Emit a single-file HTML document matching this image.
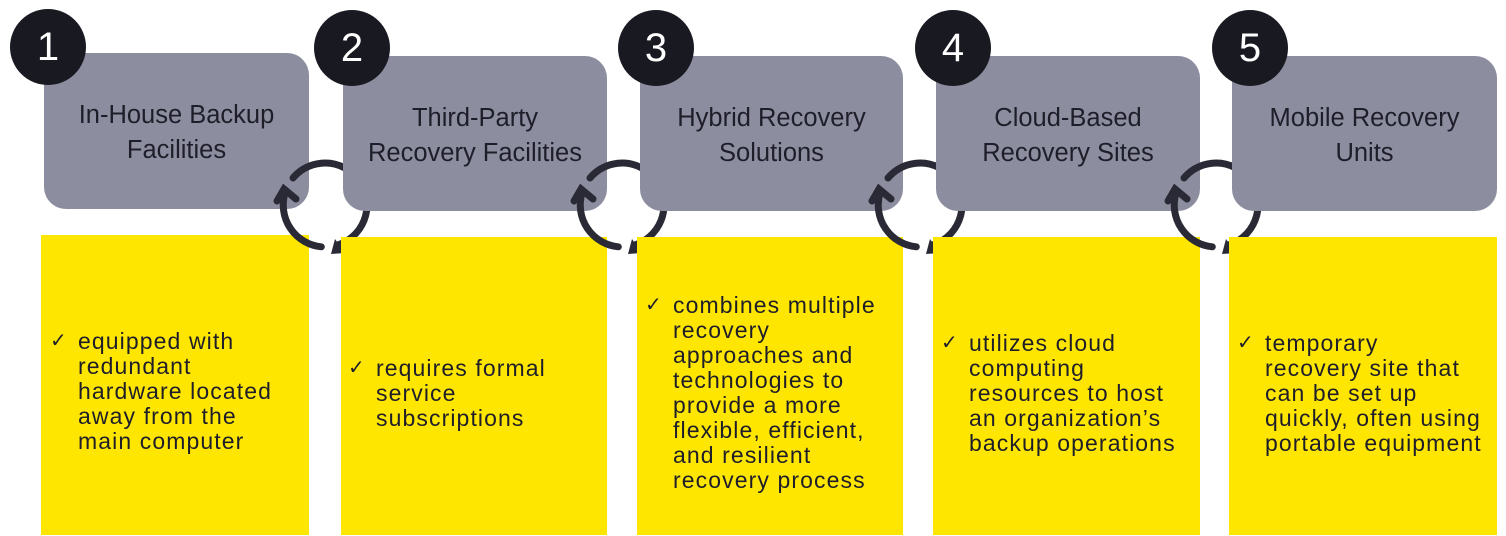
<!DOCTYPE html>
<html><head><meta charset="utf-8"><style>
body{margin:0;width:1506px;height:536px;background:#fff;position:relative;overflow:hidden;font-family:"Liberation Sans",sans-serif;}
.g{position:absolute;background:#8d8da0;border-radius:22px;color:#1e1e2a;font-size:25.5px;line-height:35px;text-align:center;display:flex;align-items:center;justify-content:center;box-sizing:border-box;padding-top:4px;}
.y{position:absolute;background:#ffe600;}
.t{position:absolute;font-size:23px;line-height:25px;color:#1e1e2a;letter-spacing:1.1px;white-space:nowrap;}
.ck{position:absolute;font-size:20px;line-height:25px;color:#1e1e2a;}
.n{position:absolute;width:76px;height:76px;border-radius:50%;background:#191922;color:#fff;font-size:40px;line-height:76px;text-align:center;}
svg.a{position:absolute;overflow:visible;}
</style></head><body>
<div class="y" style="left:41px;top:235px;width:268px;height:300px"></div>
<div class="g" style="left:44px;top:53px;width:265px;height:156px">In-House Backup<br>Facilities</div>
<div class="n" style="left:10px;top:9px">1</div>
<div class="ck" style="left:50px;top:329px">✓</div>
<div class="t" style="left:78px;top:329px">equipped with<br>redundant<br>hardware located<br>away from the<br>main computer</div>
<svg class="a" style="left:325px;top:205px" width="1" height="1"><g fill="none" stroke="#2a2a36" stroke-width="7" stroke-linecap="round"><path d="M36.4 -21 A42 42 0 0 1 12 40.2"/><path d="M-3.7 41.8 A42 42 0 0 1 -40 -12"/><path d="M-32 -27 A42 42 0 0 1 19 -37.4"/><path d="M-48 -4 L-41 -16 L-29 -6"/></g><polygon points="10,34 20,48 6,49" fill="#2a2a36"/></svg>

<div class="y" style="left:341px;top:237px;width:266px;height:298px"></div>
<div class="g" style="left:343px;top:56px;width:264px;height:155px">Third-Party<br>Recovery Facilities</div>
<div class="n" style="left:314px;top:10px">2</div>
<div class="ck" style="left:348px;top:356px">✓</div>
<div class="t" style="left:376px;top:356px">requires formal<br>service<br>subscriptions</div>
<svg class="a" style="left:622px;top:205px" width="1" height="1"><g fill="none" stroke="#2a2a36" stroke-width="7" stroke-linecap="round"><path d="M36.4 -21 A42 42 0 0 1 12 40.2"/><path d="M-3.7 41.8 A42 42 0 0 1 -40 -12"/><path d="M-32 -27 A42 42 0 0 1 19 -37.4"/><path d="M-48 -4 L-41 -16 L-29 -6"/></g><polygon points="10,34 20,48 6,49" fill="#2a2a36"/></svg>

<div class="y" style="left:637px;top:237px;width:266px;height:298px"></div>
<div class="g" style="left:640px;top:56px;width:263px;height:155px">Hybrid Recovery<br>Solutions</div>
<div class="n" style="left:618px;top:10px">3</div>
<div class="ck" style="left:645px;top:293px">✓</div>
<div class="t" style="left:673px;top:293px">combines multiple<br>recovery<br>approaches and<br>technologies to<br>provide a more<br>flexible, efficient,<br>and resilient<br>recovery process</div>
<svg class="a" style="left:920px;top:205px" width="1" height="1"><g fill="none" stroke="#2a2a36" stroke-width="7" stroke-linecap="round"><path d="M36.4 -21 A42 42 0 0 1 12 40.2"/><path d="M-3.7 41.8 A42 42 0 0 1 -40 -12"/><path d="M-32 -27 A42 42 0 0 1 19 -37.4"/><path d="M-48 -4 L-41 -16 L-29 -6"/></g><polygon points="10,34 20,48 6,49" fill="#2a2a36"/></svg>

<div class="y" style="left:933px;top:237px;width:267px;height:298px"></div>
<div class="g" style="left:936px;top:56px;width:264px;height:155px">Cloud-Based<br>Recovery Sites</div>
<div class="n" style="left:915px;top:10px">4</div>
<div class="ck" style="left:941px;top:331px">✓</div>
<div class="t" style="left:969px;top:331px">utilizes cloud<br>computing<br>resources to host<br>an organization’s<br>backup operations</div>
<svg class="a" style="left:1216px;top:205px" width="1" height="1"><g fill="none" stroke="#2a2a36" stroke-width="7" stroke-linecap="round"><path d="M36.4 -21 A42 42 0 0 1 12 40.2"/><path d="M-3.7 41.8 A42 42 0 0 1 -40 -12"/><path d="M-32 -27 A42 42 0 0 1 19 -37.4"/><path d="M-48 -4 L-41 -16 L-29 -6"/></g><polygon points="10,34 20,48 6,49" fill="#2a2a36"/></svg>

<div class="y" style="left:1229px;top:237px;width:268px;height:298px"></div>
<div class="g" style="left:1232px;top:56px;width:265px;height:155px">Mobile Recovery<br>Units</div>
<div class="n" style="left:1212px;top:10px">5</div>
<div class="ck" style="left:1237px;top:331px">✓</div>
<div class="t" style="left:1265px;top:331px">temporary<br>recovery site that<br>can be set up<br>quickly, often using<br>portable equipment</div>
</body></html>
